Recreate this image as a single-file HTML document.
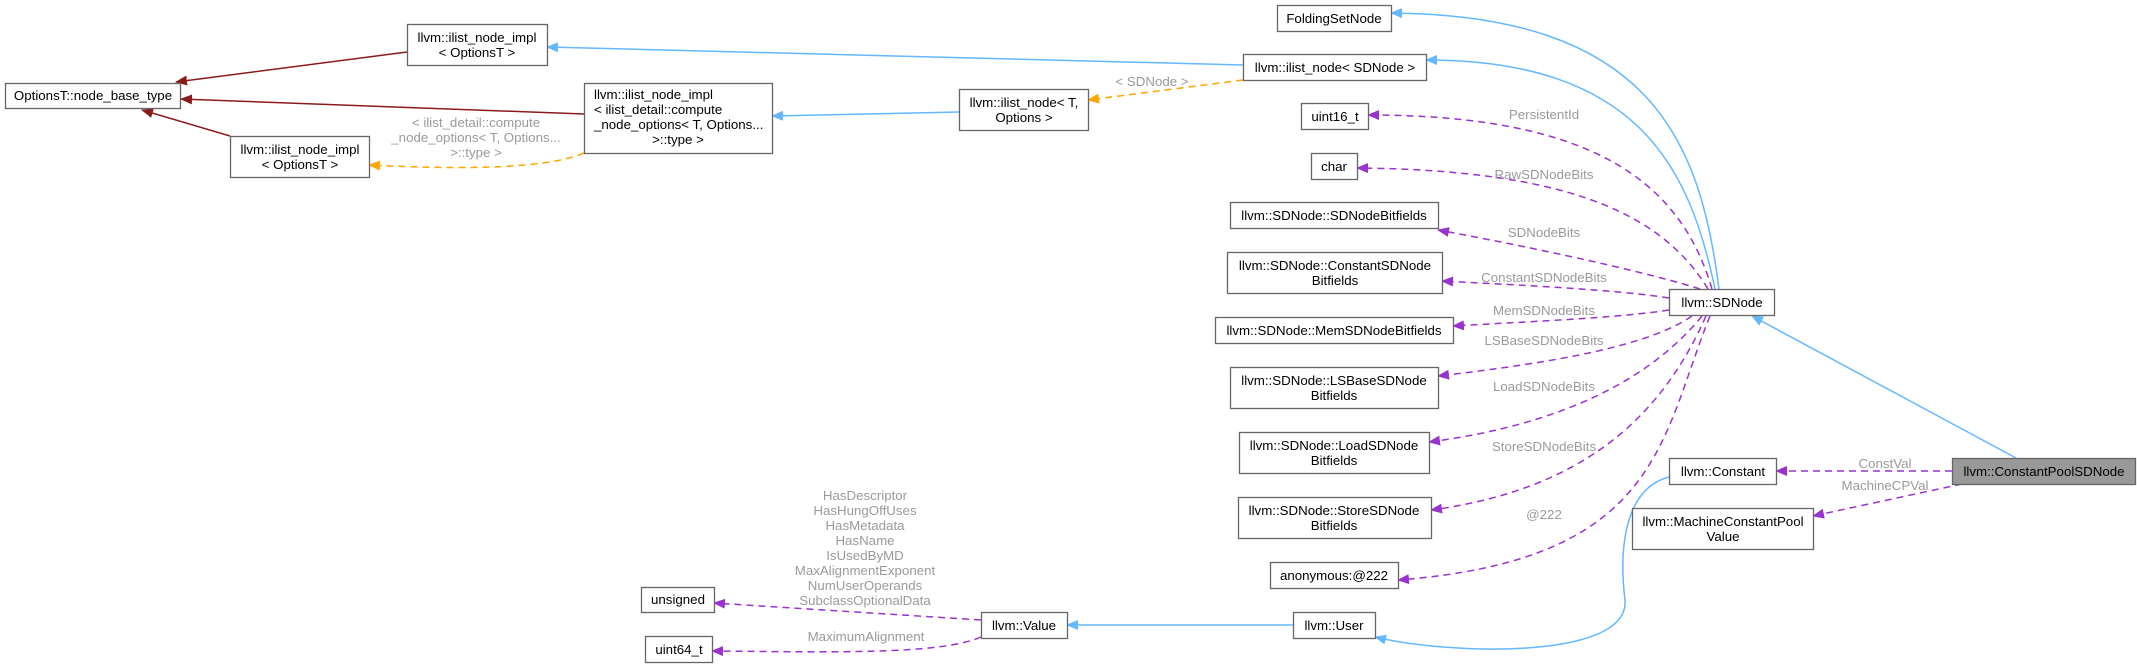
<!DOCTYPE html>
<html><head><meta charset="utf-8"><style>
html,body{margin:0;padding:0;background:#fff}
svg{display:block}
text{font-family:"Liberation Sans",Arial,sans-serif;font-size:13.3px}
.n{fill:#000;text-anchor:middle}
.l{fill:#9a9a9a;text-anchor:middle}
rect{fill:#fff;stroke:#666;stroke-width:1.3}
.red{stroke:#8b1a1a;stroke-width:1.5;fill:none}
.blue{stroke:#63b8ff;stroke-width:1.5;fill:none}
.or{stroke:#ffa500;stroke-width:1.5;fill:none;stroke-dasharray:7,5}
.pu{stroke:#9a32cd;stroke-width:1.5;fill:none;stroke-dasharray:7,5}
</style></head><body>
<svg width="2137" height="667" viewBox="0 0 2137 667" xmlns="http://www.w3.org/2000/svg">
<defs>
<marker id="ar" markerWidth="12" markerHeight="10" refX="11" refY="5" orient="auto" markerUnits="userSpaceOnUse"><path d="M0,0 L12,5 L0,10z" fill="#8b1a1a"/></marker>
<marker id="ab" markerWidth="12" markerHeight="10" refX="11" refY="5" orient="auto" markerUnits="userSpaceOnUse"><path d="M0,0 L12,5 L0,10z" fill="#63b8ff"/></marker>
<marker id="ao" markerWidth="12" markerHeight="10" refX="11" refY="5" orient="auto" markerUnits="userSpaceOnUse"><path d="M0,0 L12,5 L0,10z" fill="#ffa500"/></marker>
<marker id="ap" markerWidth="12" markerHeight="10" refX="11" refY="5" orient="auto" markerUnits="userSpaceOnUse"><path d="M0,0 L12,5 L0,10z" fill="#9a32cd"/></marker>
</defs>

<!-- edges -->
<path class="red" d="M407,52 L176,82" marker-end="url(#ar)"/>
<path class="red" d="M584,114 L181,99" marker-end="url(#ar)"/>
<path class="red" d="M230,136 L142,110" marker-end="url(#ar)"/>
<path class="blue" d="M1243,65 L547,47" marker-end="url(#ab)"/>
<path class="blue" d="M959,112 L772,116" marker-end="url(#ab)"/>
<path class="or" d="M1243,80 L1088,100" marker-end="url(#ao)"/>
<text class="l" x="1152" y="86">&lt; SDNode &gt;</text>
<path class="or" d="M584,153 C540,172 430,168 369,165" marker-end="url(#ao)"/>
<text class="l" x="476" y="127">&lt; ilist_detail::compute</text>
<text class="l" x="476" y="142">_node_options&lt; T, Options...</text>
<text class="l" x="476" y="157">&gt;::type &gt;</text>

<path class="blue" d="M1719,289 C1700,140 1650,15 1391,13" marker-end="url(#ab)"/>
<path class="blue" d="M1715,289 C1690,170 1640,60 1426,60" marker-end="url(#ab)"/>
<path class="blue" d="M2016,458 L1752,316" marker-end="url(#ab)"/>

<path class="pu" d="M1712,289 C1680,180 1590,115 1368,115" marker-end="url(#ap)"/>
<text class="l" x="1544" y="119">PersistentId</text>
<path class="pu" d="M1708,289 C1660,210 1560,170 1357,168" marker-end="url(#ap)"/>
<text class="l" x="1544" y="179">RawSDNodeBits</text>
<path class="pu" d="M1700,289 C1640,270 1520,245 1438,230" marker-end="url(#ap)"/>
<text class="l" x="1544" y="237">SDNodeBits</text>
<path class="pu" d="M1669,298 C1620,290 1520,285 1442,281" marker-end="url(#ap)"/>
<text class="l" x="1544" y="282">ConstantSDNodeBits</text>
<path class="pu" d="M1669,310 C1620,318 1520,322 1453,326" marker-end="url(#ap)"/>
<text class="l" x="1544" y="315">MemSDNodeBits</text>
<path class="pu" d="M1692,316 C1650,345 1560,362 1438,376" marker-end="url(#ap)"/>
<text class="l" x="1544" y="345">LSBaseSDNodeBits</text>
<path class="pu" d="M1702,316 C1650,380 1560,425 1429,442" marker-end="url(#ap)"/>
<text class="l" x="1544" y="391">LoadSDNodeBits</text>
<path class="pu" d="M1706,316 C1660,420 1580,490 1431,510" marker-end="url(#ap)"/>
<text class="l" x="1544" y="451">StoreSDNodeBits</text>
<path class="pu" d="M1710,316 C1660,440 1660,560 1398,580" marker-end="url(#ap)"/>
<text class="l" x="1544" y="519">@222</text>

<path class="pu" d="M1952,471 L1776,471" marker-end="url(#ap)"/>
<text class="l" x="1885" y="468">ConstVal</text>
<path class="pu" d="M1962,484 L1813,516" marker-end="url(#ap)"/>
<text class="l" x="1885" y="490">MachineCPVal</text>

<path class="blue" d="M1669,477 C1620,490 1620,560 1625,600 C1630,660 1450,655 1375,637" marker-end="url(#ab)"/>
<path class="blue" d="M1293,625 L1067,625" marker-end="url(#ab)"/>

<path class="pu" d="M981,620 L714,603" marker-end="url(#ap)"/>
<text class="l" x="865" y="500">HasDescriptor</text>
<text class="l" x="865" y="515">HasHungOffUses</text>
<text class="l" x="865" y="530">HasMetadata</text>
<text class="l" x="865" y="545">HasName</text>
<text class="l" x="865" y="560">IsUsedByMD</text>
<text class="l" x="865" y="575">MaxAlignmentExponent</text>
<text class="l" x="865" y="590">NumUserOperands</text>
<text class="l" x="865" y="605">SubclassOptionalData</text>
<path class="pu" d="M981,637 C940,655 830,652 712,651" marker-end="url(#ap)"/>
<text class="l" x="866" y="641">MaximumAlignment</text>

<!-- nodes -->
<rect x="5.5" y="83.5" width="175" height="25"/><text class="n" x="93" y="100">OptionsT::node_base_type</text>
<rect x="407.5" y="24.5" width="140" height="41"/><text class="n" x="477" y="42">llvm::ilist_node_impl</text><text class="n" x="477" y="57">&lt; OptionsT &gt;</text>
<rect x="230.5" y="136.5" width="139" height="41"/><text class="n" x="300" y="154">llvm::ilist_node_impl</text><text class="n" x="300" y="169">&lt; OptionsT &gt;</text>
<rect x="584.5" y="83.5" width="188" height="70"/>
<text class="n" x="678" y="99" style="text-anchor:start" transform="translate(-84,0)">llvm::ilist_node_impl</text>
<text x="594" y="114">&lt; ilist_detail::compute</text>
<text x="594" y="129">_node_options&lt; T, Options...</text>
<text class="n" x="678" y="144">&gt;::type &gt;</text>
<rect x="959.5" y="89.5" width="129" height="41"/><text class="n" x="1024" y="107">llvm::ilist_node&lt; T,</text><text class="n" x="1024" y="122">Options &gt;</text>

<rect x="1277.5" y="5.5" width="114" height="26"/><text class="n" x="1334" y="23">FoldingSetNode</text>
<rect x="1243.5" y="54.5" width="183" height="26"/><text class="n" x="1335" y="72">llvm::ilist_node&lt; SDNode &gt;</text>
<rect x="1301.5" y="103.5" width="67" height="26"/><text class="n" x="1335" y="121">uint16_t</text>
<rect x="1311.5" y="153.5" width="46" height="26"/><text class="n" x="1334" y="171">char</text>
<rect x="1230.5" y="202.5" width="208" height="26"/><text class="n" x="1334" y="220">llvm::SDNode::SDNodeBitfields</text>
<rect x="1227.5" y="252.5" width="215" height="41"/><text class="n" x="1335" y="270">llvm::SDNode::ConstantSDNode</text><text class="n" x="1335" y="285">Bitfields</text>
<rect x="1215.5" y="317.5" width="238" height="26"/><text class="n" x="1334" y="335">llvm::SDNode::MemSDNodeBitfields</text>
<rect x="1230.5" y="367.5" width="208" height="41"/><text class="n" x="1334" y="385">llvm::SDNode::LSBaseSDNode</text><text class="n" x="1334" y="400">Bitfields</text>
<rect x="1239.5" y="432.5" width="190" height="41"/><text class="n" x="1334" y="450">llvm::SDNode::LoadSDNode</text><text class="n" x="1334" y="465">Bitfields</text>
<rect x="1238.5" y="497.5" width="193" height="41"/><text class="n" x="1334" y="515">llvm::SDNode::StoreSDNode</text><text class="n" x="1334" y="530">Bitfields</text>
<rect x="1270.5" y="562.5" width="128" height="26"/><text class="n" x="1334" y="580">anonymous:@222</text>
<rect x="1293.5" y="612.5" width="82" height="26"/><text class="n" x="1334" y="630">llvm::User</text>
<rect x="981.5" y="612.5" width="86" height="26"/><text class="n" x="1024" y="630">llvm::Value</text>
<rect x="641.5" y="587.5" width="73" height="25"/><text class="n" x="678" y="604">unsigned</text>
<rect x="645.5" y="636.5" width="67" height="26"/><text class="n" x="679" y="654">uint64_t</text>

<rect x="1669.5" y="289.5" width="105" height="26"/><text class="n" x="1722" y="307">llvm::SDNode</text>
<rect x="1669.5" y="458.5" width="107" height="26"/><text class="n" x="1723" y="476">llvm::Constant</text>
<rect x="1632.5" y="508.5" width="181" height="41"/><text class="n" x="1723" y="526">llvm::MachineConstantPool</text><text class="n" x="1723" y="541">Value</text>
<rect x="1952.5" y="458.5" width="183" height="26" style="fill:#999"/><text class="n" x="2044" y="476">llvm::ConstantPoolSDNode</text>
</svg>
</body></html>
